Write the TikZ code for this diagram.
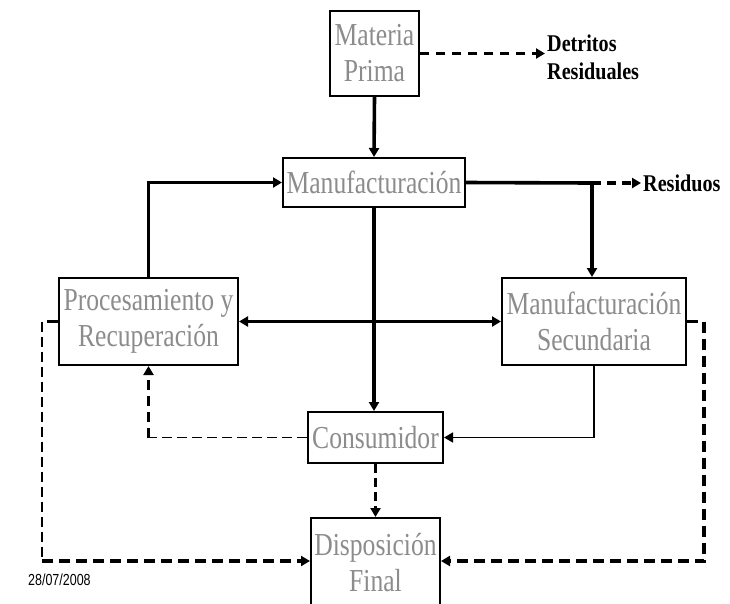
\documentclass[tikz,border=0pt]{standalone}
\usepackage{fontspec}
\usepackage{tikz}
\usetikzlibrary{arrows.meta, positioning}

\newfontfamily\boxfont[FakeStretch=0.8]{Liberation Serif}
\newfontfamily\tagfont[FakeStretch=0.84]{Liberation Serif}
\newfontfamily\datefont[FakeStretch=0.78]{Liberation Sans}
\definecolor{boxgray}{RGB}{140,140,140}

\begin{document}
\begin{tikzpicture}[
  x=1pt, y=-1pt,
  stage/.style={draw, line width=2pt, fill=white, text=boxgray, align=center, inner sep=1pt,
    font=\boxfont\fontsize{32}{36}\selectfont},
  outlabel/.style={anchor=west, align=left, inner sep=2pt, font=\tagfont\bfseries\fontsize{24}{28}\selectfont},
  flow/.style={-{Triangle[length=9pt,width=10pt]}, line width=3.6pt},
  both/.style={{Triangle[length=9pt,width=10pt]}-{Triangle[length=9pt,width=10pt]}, line width=3.6pt},
  thinflow/.style={-{Triangle[length=9pt,width=10pt]}, line width=1.6pt},
  waste/.style={-{Triangle[length=9pt,width=10pt]}, line width=3.6pt, dash pattern=on 11pt off 6pt},
  thinwaste/.style={line width=1.1pt, dash pattern=on 10pt off 5pt}
]
\useasboundingbox (0,0) rectangle (730,603);
\clip (0,0) rectangle (730,603);

% --- stages ---
\node[stage, minimum width=89pt, minimum height=85pt] (mp) at (374.5,53.5) {Materia\\Prima};
\node[stage, minimum width=182pt, minimum height=49pt] (manu) at (374,182.5) {Manufacturación};
\node[stage, minimum width=179pt, minimum height=87pt] (proc) at (148.5,321.5) {Procesamiento y\\Recuperación};
\node[stage, minimum width=184pt, minimum height=87pt] (msec) at (594,321.5) {Manufacturación\\Secundaria};
\node[stage, minimum width=135pt, minimum height=51pt] (cons) at (375.5,437.5) {Consumidor};
\node[stage, minimum width=129pt, minimum height=90pt] (disp) at (375.5,563) {Disposición\\Final};

% --- outputs ---
\node[outlabel] (det) at (545,57) {Detritos\\Residuales};
\node[outlabel] (res) at (641,183) {Residuos};
\node[anchor=west, inner sep=0pt, font=\datefont\fontsize{16}{18}\selectfont] (date) at (28,580) {28/07/2008};

% --- joints ---
\coordinate (rjoin) at (592,183);
\coordinate (pjoin) at (proc.south |- cons.west);
\coordinate (lt) at (42,321.5);
\coordinate (lb) at (42,561);
\coordinate (rt) at (704,321.5);
\coordinate (rb) at (704,561);

% --- main flow ---
\draw[flow] (mp.south) -- (manu.north);
\draw[line width=3.6pt] (manu.east) -- (rjoin);
\draw[waste, dash pattern=on 9pt off 6pt] (rjoin) -- (res.west);
\draw[waste, dash pattern=on 9pt off 7pt] (mp.east) -- (mp.east -| det.west);
\draw[flow] (rjoin) -- (rjoin |- msec.north);
\draw[flow] (manu.south) -- (manu.south |- cons.north);
\draw[both] (proc.east) -- (msec.west);
\draw[flow] (proc.north) |- (manu.west);
\draw[thinflow] (msec.south) |- (cons.east);

% --- recovery and disposal ---
\draw[thinwaste] (cons.west) -- (pjoin);
\draw[waste, dash pattern=on 10pt off 6pt, line width=3pt] (pjoin) -- (proc.south);
\draw[waste, dash pattern=on 9pt off 5pt] (cons.south) -- (disp.north);
\draw[waste, -] (proc.west) -- (lt);
\draw[thinwaste] (lt) -- (lb);
\draw[waste] (lb) -- (disp.west |- lb);
\draw[waste] (msec.east) -- (rt) -- (rb) -- (disp.east |- rb);

\end{tikzpicture}
\end{document}
